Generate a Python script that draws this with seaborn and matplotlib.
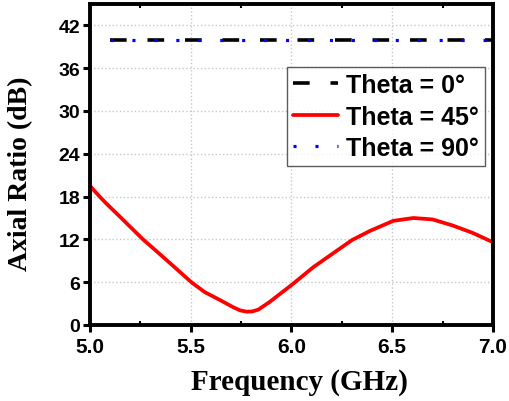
import matplotlib
matplotlib.use("Agg")
import matplotlib.pyplot as plt
import seaborn as sns
import pandas as pd
from matplotlib.ticker import MultipleLocator

# ---- data ----
freq_45 = [5.0, 5.048, 5.075, 5.155, 5.263, 5.32, 5.40, 5.503, 5.57, 5.645, 5.71,
           5.745, 5.777, 5.805, 5.835, 5.89, 6.0, 6.108, 6.224, 6.30, 6.39, 6.505,
           6.605, 6.70, 6.80, 6.90, 7.0]
ar_45 = [19.5, 18.0, 17.2, 15.0, 12.0, 10.6, 8.6, 6.0, 4.6, 3.5, 2.5,
         2.05, 1.87, 1.9, 2.15, 3.2, 5.6, 8.1, 10.4, 11.9, 13.2, 14.6,
         15.0, 14.8, 13.95, 12.9, 11.6]
freq_flat = [5.1, 7.0]
ar_0 = [40.0, 40.0]
ar_90 = [40.0, 40.0]
labels = ["Theta = 0°", "Theta = 45°", "Theta = 90°"]
xticks = [5.0, 5.5, 6.0, 6.5, 7.0]
yticks = [0, 6, 12, 18, 24, 30, 36, 42]

sns.set_style("white")
plt.rcParams['lines.scale_dashes'] = False
plt.rcParams['text.color'] = 'black'
plt.rcParams['axes.labelcolor'] = 'black'
plt.rcParams['xtick.color'] = 'black'
plt.rcParams['ytick.color'] = 'black'

fig = plt.figure(figsize=(5.1, 4.02), dpi=100)
ax = fig.add_axes([90/510, 1-326/402, (493-90)/510, (326-5)/402])

df0 = pd.DataFrame({"f": freq_flat, "ar": ar_0})
df45 = pd.DataFrame({"f": freq_45, "ar": ar_45})
df90 = pd.DataFrame({"f": freq_flat, "ar": ar_90})

sns.lineplot(data=df0, x="f", y="ar", ax=ax, color="black", lw=2.6,
             linestyle=(0, (12, 15)), label=labels[0])
sns.lineplot(data=df45, x="f", y="ar", ax=ax, color="#ff0000", lw=2.7,
             label=labels[1])
sns.lineplot(data=df90, x="f", y="ar", ax=ax, color="#0000ff", lw=2.3,
             linestyle=(0, (2.2, 13.6)), label=labels[2])

ax.set_xlim(5.0, 7.0)
ax.set_ylim(0, 45)
ax.set_xticks(xticks)
ax.set_yticks(yticks)
ax.xaxis.set_minor_locator(MultipleLocator(0.25))
ax.set_xticklabels([f"{t:.1f}" for t in xticks], fontsize=15, fontweight="bold",
                   family="Liberation Sans")
ax.set_yticklabels([str(t) for t in yticks], fontsize=14, fontweight="bold",
                   family="Liberation Sans")
ax.grid(True, which="major", color="#c8c8c8", linestyle=":", lw=1.0)
ax.tick_params(axis="both", which="major", direction="out", length=5, width=2.2,
               bottom=True, left=True, pad=2)
ax.tick_params(axis="x", which="major", pad=4)
ax.tick_params(axis="x", which="minor", direction="in", length=3, width=1.5,
               bottom=True, top=True)
for s in ax.spines.values():
    s.set_linewidth(2.8)
    s.set_color("black")

ax.set_xlabel("Frequency (GHz)", fontsize=21, fontweight="bold",
              family="Liberation Serif")
ax.set_ylabel("Axial Ratio (dB)", fontsize=20, fontweight="bold",
              family="Liberation Serif")
ax.xaxis.set_label_coords(0.519, -0.133)
ax.yaxis.set_label_coords(-0.142, 0.475)

leg = ax.legend(loc="upper right", bbox_to_anchor=(0.98, 0.804), borderaxespad=0,
                prop={"family": "Liberation Sans", "weight": "bold", "size": 18},
                frameon=True, fancybox=False, handlelength=1.8, handletextpad=0.3,
                borderpad=0.25, labelspacing=0.3)
leg.get_frame().set_edgecolor("#333333")
leg.get_frame().set_linewidth(1.0)

fig.savefig("out.png", dpi=100)
